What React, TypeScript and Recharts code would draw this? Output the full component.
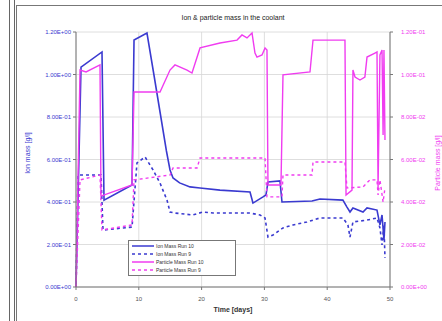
import React from 'react';
import { LineChart, Line, XAxis, YAxis, CartesianGrid } from 'recharts';

// [day, g/l] pairs
const ionRun10: number[][] = [
  [0, 0], [0.8, 1.035], [4.14, 1.106], [4.46, 0.409], [8.92, 0.48], [9.24, 1.162], [11.3, 1.195],
  [12.4, 1.0], [13.4, 0.82], [14.4, 0.64], [14.97, 0.551], [15.45, 0.513], [16.5, 0.49], [18.15, 0.471],
  [19.75, 0.466], [22.93, 0.456], [27.71, 0.447], [28.18, 0.395], [29.78, 0.424], [30.25, 0.433],
  [30.57, 0.494], [32.48, 0.499], [32.8, 0.4], [37.58, 0.405], [38.85, 0.414], [42.5, 0.409],
  [43.15, 0.376], [43.63, 0.353], [44.1, 0.372], [45.7, 0.353], [46.34, 0.372], [47.93, 0.362],
  [48.4, 0.292], [48.73, 0.339], [49.04, 0.221], [49.2, 0.306],
];

const ionRun9: number[][] = [
  [0, 0], [0.32, 0.527], [3.98, 0.527], [4.3, 0.268], [8.92, 0.282], [9.71, 0.584], [11.0, 0.612],
  [12.26, 0.551], [13.38, 0.489], [14.49, 0.409], [14.97, 0.353], [15.76, 0.348], [18.63, 0.339],
  [20.22, 0.353], [21.82, 0.348], [27.71, 0.348], [29.3, 0.339], [30.1, 0.325], [30.57, 0.235],
  [31.37, 0.245], [32.96, 0.278], [34.55, 0.292], [36.78, 0.306], [38.85, 0.325], [42.5, 0.325],
  [43.3, 0.292], [43.63, 0.235], [44.1, 0.306], [46.34, 0.315], [47.93, 0.325], [48.4, 0.278],
  [48.73, 0.198], [49.04, 0.292], [49.2, 0.136],
];

const particleRun10: number[][] = [
  [0, 0], [0.64, 0.1021], [1.6, 0.1012], [3.82, 0.1045], [3.98, 0.0428], [8.92, 0.048], [9.24, 0.0918],
  [13.38, 0.0918], [14.97, 0.1021], [15.76, 0.1045], [17.68, 0.1021], [18.47, 0.1007], [19.75, 0.1125],
  [22.93, 0.1148], [25.64, 0.1162], [26.43, 0.1186], [27.23, 0.1172], [28.03, 0.1195], [28.5, 0.1101],
  [28.82, 0.1082], [29.62, 0.1092], [30.1, 0.1125], [30.41, 0.1115], [30.57, 0.048], [32.64, 0.048],
  [32.96, 0.0998], [37.26, 0.1012], [37.74, 0.1162], [42.83, 0.1162], [43.0, 0.0433], [43.95, 0.0456],
  [44.1, 0.1021], [44.43, 0.0988], [45.22, 0.0974], [46.0, 0.0988], [46.34, 0.1082], [47.6, 0.1101],
  [47.93, 0.1106], [48.1, 0.0466], [48.4, 0.1092], [48.73, 0.1115], [48.9, 0.0715], [49.04, 0.1115],
  [49.2, 0.0692],
];

const particleRun9: number[][] = [
  [0, 0], [0.64, 0.0504], [3.82, 0.0527], [4.14, 0.0268], [8.92, 0.0292], [9.24, 0.0504],
  [14.97, 0.0527], [15.45, 0.056], [19.27, 0.056], [19.75, 0.0607], [30.1, 0.0607], [30.41, 0.0424],
  [32.8, 0.0424], [32.96, 0.0527], [37.58, 0.0527], [37.74, 0.0588], [42.83, 0.0588], [43.15, 0.0466],
  [45.7, 0.0471], [46.8, 0.0504], [47.93, 0.0504], [48.1, 0.0433], [48.4, 0.0504], [48.9, 0.04],
  [49.2, 0.0466],
];

const dayTicks = [0, 10, 20, 30, 40, 50];
const ionTicks = [0, 0.2, 0.4, 0.6, 0.8, 1.0, 1.2];
const particleTicks = [0, 0.02, 0.04, 0.06, 0.08, 0.1, 0.12];

const seriesNames = ['Ion Mass Run 10', 'Ion Mass Run 9', 'Particle Mass Run 10', 'Particle Mass Run 9'];

const BLUE = '#3a3ad0';
const PINK = '#f03cf0';
const FONT = 'Arial, "Liberation Sans", sans-serif';

const toRows = (pts: number[][]) => pts.map(([day, value]) => ({ day, value }));

const sci = (v: number) => {
  if (v === 0) return '0.00E+00';
  const [m, e] = v.toExponential(2).split('e');
  const n = parseInt(e, 10);
  return `${m}E${n < 0 ? '-' : '+'}${String(Math.abs(n)).padStart(2, '0')}`;
};

const legendItems = [
  { name: seriesNames[0], color: BLUE, dash: undefined },
  { name: seriesNames[1], color: BLUE, dash: '3 3' },
  { name: seriesNames[2], color: PINK, dash: undefined },
  { name: seriesNames[3], color: PINK, dash: '3 3' },
];

// legend drawn as an overlay so it doesn't eat plot space
const LegendBox = () => (
  <div style={{ position: 'absolute', left: 128, top: 240, width: 100, border: '1px solid #777', background: '#fff', padding: '1px 3px' }}>
    {legendItems.map((it) => (
      <div key={it.name} style={{ display: 'flex', alignItems: 'center', height: 8 }}>
        <svg width={22} height={4} style={{ flex: 'none' }}>
          <line x1={0} y1={2} x2={22} y2={2} stroke={it.color} strokeWidth={1.5} strokeDasharray={it.dash} />
        </svg>
        <span style={{ fontSize: 5, color: '#333', marginLeft: 2, whiteSpace: 'nowrap', lineHeight: '6px' }}>{it.name}</span>
      </div>
    ))}
  </div>
);

export default function App() {
  return (
    <div style={{ position: 'absolute', left: 0, top: 0, width: 442, height: 321, background: '#fff', fontFamily: FONT, overflow: 'hidden' }}>
      {/* page frame */}
      <div style={{ position: 'absolute', left: 9, top: 0, width: 1, height: 321, background: '#666' }} />
      <div style={{ position: 'absolute', left: 14, top: 0, width: 1, height: 321, background: '#666' }} />
      <div style={{ position: 'absolute', left: 16, top: 5, width: 426, height: 1, background: '#777' }} />
      <div style={{ position: 'absolute', left: 16, top: 5, width: 1, height: 316, background: '#777' }} />

      <div style={{ position: 'absolute', left: 76, width: 314, top: 14, textAlign: 'center', fontSize: 7, color: '#222' }}>
        Ion &amp; particle mass in the coolant
      </div>

      <LineChart width={442} height={321} margin={{ top: 32, right: 6, left: 18, bottom: 14 }}>
        <CartesianGrid xAxisId="b" yAxisId="ion" stroke="#d6d6d6" strokeWidth={0.8} />
        <XAxis
          xAxisId="b"
          type="number"
          dataKey="day"
          domain={[0, 50]}
          ticks={dayTicks}
          height={20}
          tickSize={3}
          tickMargin={7}
          stroke="#777"
          tick={{ fontSize: 6, fill: '#555', fontFamily: FONT }}
          allowDuplicatedCategory={false}
        />
        <XAxis xAxisId="t" orientation="top" type="number" domain={[0, 50]} height={0} tick={false} tickLine={false} stroke="#888" />
        <YAxis
          yAxisId="ion"
          domain={[0, 1.2]}
          ticks={ionTicks}
          width={58}
          tickSize={3}
          stroke="#777"
          tickFormatter={sci}
          tick={{ fontSize: 6, fill: BLUE, fontFamily: FONT }}
        />
        <YAxis
          yAxisId="particle"
          orientation="right"
          domain={[0, 0.12]}
          ticks={particleTicks}
          width={46}
          tickSize={3}
          tickMargin={8}
          stroke="#777"
          tickFormatter={sci}
          tick={{ fontSize: 6, fill: PINK, fontFamily: FONT }}
        />
        <Line xAxisId="b" yAxisId="ion" data={toRows(ionRun10)} dataKey="value" name={seriesNames[0]} type="linear" stroke={BLUE} strokeWidth={1.6} dot={false} isAnimationActive={false} />
        <Line xAxisId="b" yAxisId="ion" data={toRows(ionRun9)} dataKey="value" name={seriesNames[1]} type="linear" stroke={BLUE} strokeWidth={1.6} strokeDasharray="3 3" dot={false} isAnimationActive={false} />
        <Line xAxisId="b" yAxisId="particle" data={toRows(particleRun10)} dataKey="value" name={seriesNames[2]} type="linear" stroke={PINK} strokeWidth={1.4} dot={false} isAnimationActive={false} />
        <Line xAxisId="b" yAxisId="particle" data={toRows(particleRun9)} dataKey="value" name={seriesNames[3]} type="linear" stroke={PINK} strokeWidth={1.4} strokeDasharray="3 3" dot={false} isAnimationActive={false} />
      </LineChart>

      <LegendBox />

      <div style={{ position: 'absolute', left: 27, top: 153, transform: 'translate(-50%, -50%) rotate(-90deg)', fontSize: 7, color: BLUE, whiteSpace: 'nowrap' }}>
        Ion mass [g/l]
      </div>
      <div style={{ position: 'absolute', left: 437, top: 163, transform: 'translate(-50%, -50%) rotate(-90deg)', fontSize: 7, color: PINK, whiteSpace: 'nowrap' }}>
        Particle mass [g/l]
      </div>
      <div style={{ position: 'absolute', left: 76, width: 314, top: 306, textAlign: 'center', fontSize: 7, fontWeight: 'bold', color: '#333' }}>
        Time [days]
      </div>
    </div>
  );
}
